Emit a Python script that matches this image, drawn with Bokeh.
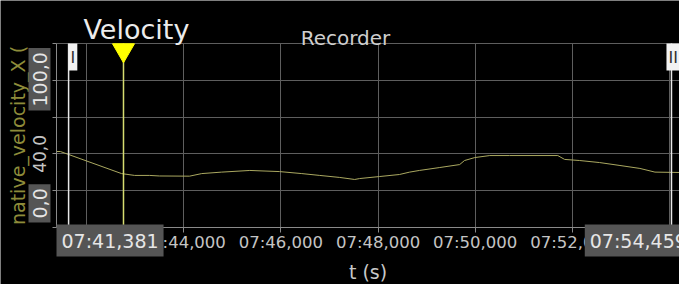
import math
from bokeh.plotting import figure
from bokeh.models import Range1d, Label, FixedTicker, BoxAnnotation
from bokeh.embed import file_html
from bokeh.resources import INLINE

# ---- data (time in seconds after 07:00, velocity values) ----
t_s = [41.381, 41.46, 42.72, 42.99, 43.30, 43.50, 44.12, 44.37, 44.78, 45.36,
       45.97, 46.43, 46.80, 47.21, 47.52, 47.62, 48.03, 48.44, 48.65, 48.85,
       49.27, 49.68, 49.78, 49.99, 50.30, 50.71, 51.70, 51.84, 52.15, 52.56,
       52.98, 53.39, 53.70, 54.20, 54.459]
velocity = [41.3, 41.3, 29.3, 28.3, 28.3, 28.0, 27.9, 29.3, 30.1, 31.0,
            30.4, 29.3, 28.3, 27.2, 26.1, 26.6, 27.7, 28.8, 30.1, 31.0,
            32.6, 34.2, 36.4, 38.0, 39.1, 39.1, 39.1, 37.0, 36.4, 35.3,
            33.7, 32.1, 30.1, 29.9, 29.8]

x_ticks = [42, 44, 46, 48, 50, 52, 54]
x_hidden = [42, 54]
y_ticks = [0, 20, 40, 60, 80, 100]
y_shown = [40]
y_min, y_max = 0, 100
t_start, t_end = 41.381, 54.459
cursor_white = [41.63, 54.04]
cursor_main = [42.76]
cursor_names = ["I", "II"]

title_text = "Velocity"
subtitle_text = "Recorder"
x_label_text = "t (s)"
y_label_text = "native_velocity_X ("


def fmt_time(t):
    sec = int(t)
    ms = int(round((t - sec) * 1000))
    return f"07:{sec:02d},{ms:03d}"


def fmt_val(v):
    return f"{v:.1f}".replace(".", ",")


# ---- layout (pixels) ----
W, H = 679, 284
PLOT_L, PLOT_T, PLOT_B = 56, 43, 227
PX_PER_S = 48.58
PX_PER_V = (PLOT_B - PLOT_T) / (y_max - y_min)
x_lo = t_start - PLOT_L / PX_PER_S
x_hi = t_start + (W - PLOT_L) / PX_PER_S
y_lo = y_min - (H - PLOT_B) / PX_PER_V
y_hi = y_max + PLOT_T / PX_PER_V
t_view_end = x_hi

FONT = "DejaVu Sans"
GRID = "#5e5e5e"
AXIS = "#8a8a8a"

p = figure(width=W, height=H, x_range=Range1d(x_lo, x_hi), y_range=Range1d(y_lo, y_hi),
           output_backend="svg", toolbar_location=None,
           min_border_left=0, min_border_right=0, min_border_top=0, min_border_bottom=0,
           background_fill_color="black", border_fill_color="black",
           outline_line_color=None)

# x axis (drawn at y = y_min)
xa = p.xaxis[0]
xa.fixed_location = y_min
xa.bounds = (t_start, t_view_end)
xa.ticker = FixedTicker(ticks=x_ticks)
xa.major_label_overrides = {t: ("" if t in x_hidden else fmt_time(t)) for t in x_ticks}
xa.axis_line_color = AXIS
xa.major_tick_line_color = AXIS
xa.major_tick_out = 5
xa.major_tick_in = 0
xa.minor_tick_line_color = None
xa.major_label_text_font = FONT
xa.major_label_text_font_size = "16.5px"
xa.major_label_text_color = "#c4c4c4"
xa.major_label_standoff = 0
xa.axis_label = x_label_text
xa.axis_label_text_font = FONT
xa.axis_label_text_font_style = "normal"
xa.axis_label_text_font_size = "19px"
xa.axis_label_text_color = "#c8c8c8"
xa.axis_label_standoff = 6

# y axis (drawn at x = t_start)
ya = p.yaxis[0]
ya.fixed_location = t_start
ya.bounds = (y_min, y_max)
ya.ticker = FixedTicker(ticks=y_ticks)
ya.major_label_overrides = {v: (fmt_val(v) if v in y_shown else "") for v in y_ticks}
ya.axis_line_color = AXIS
ya.major_tick_line_color = AXIS
ya.major_tick_out = 4
ya.major_tick_in = 0
ya.minor_tick_line_color = None
ya.major_label_orientation = "parallel"
ya.major_label_text_font = FONT
ya.major_label_text_font_size = "17px"
ya.major_label_text_color = "#c4c4c4"
ya.major_label_standoff = 6
ya.axis_label = y_label_text
ya.axis_label_text_font = FONT
ya.axis_label_text_font_style = "normal"
ya.axis_label_text_font_size = "19px"
ya.axis_label_text_color = "#8e8c3a"
ya.axis_label_standoff = 2

# grid restricted to the plot area
xg, yg = p.xgrid[0], p.ygrid[0]
xg.grid_line_color = GRID
yg.grid_line_color = GRID
if "cross_bounds" in xg.properties():
    xg.cross_bounds = (y_min, y_max)
    yg.cross_bounds = (t_start, t_view_end)
else:
    p.add_layout(BoxAnnotation(right=t_start, fill_color="black", fill_alpha=1,
                               line_color=None, level="glyph"))
    p.add_layout(BoxAnnotation(bottom=y_max, fill_color="black", fill_alpha=1,
                               line_color=None, level="glyph"))
    p.add_layout(BoxAnnotation(top=y_min, fill_color="black", fill_alpha=1,
                               line_color=None, level="glyph"))

# data line
p.line(t_s, velocity, line_color="#aaa860", line_width=1)

# cursors
p.segment(x0=cursor_white, y0=[y_min] * 2, x1=cursor_white, y1=[y_max] * 2,
          line_color="#e8e8e8", line_width=1.5)
p.segment(x0=cursor_main, y0=[y_min], x1=cursor_main, y1=[y_max],
          line_color="#d6dc70", line_width=1.5)
p.scatter(cursor_main, [y_max - 3.6], marker="inverted_triangle", size=22,
          fill_color="#ffff00", line_color="#ffff00")

for cx, name, off in zip(cursor_white, cursor_names, [0, -5]):
    p.add_layout(Label(x=cx, y=H - PLOT_T, x_units="data", y_units="screen", text=name,
                       x_offset=off, text_align="left", text_baseline="top",
                       text_font=FONT, text_font_size="16px", text_color="#303030",
                       background_fill_color="#f2f2f2",
                       padding=dict(left=2, right=2, top=4, bottom=4)))

# range boxes
BOX_BG = "#555555"
BOX_TXT = "#e6e6e6"
p.add_layout(Label(x=t_start, y=H - 256, x_units="data", y_units="screen",
                   text=fmt_time(t_start), text_align="left", text_baseline="bottom",
                   text_font=FONT, text_font_size="19px", text_color=BOX_TXT,
                   background_fill_color=BOX_BG, padding=5))
p.add_layout(Label(x=t_end, y=H - 256, x_units="data", y_units="screen",
                   text=fmt_time(t_end), text_align="right", text_baseline="bottom",
                   text_font=FONT, text_font_size="19px", text_color=BOX_TXT,
                   background_fill_color=BOX_BG, padding=5))
p.add_layout(Label(x=39, y=H - 110, x_units="screen", y_units="screen",
                   text=fmt_val(y_max), angle=math.pi / 2, text_align="left",
                   text_baseline="middle", text_font=FONT, text_font_size="19px",
                   text_color=BOX_TXT, background_fill_color=BOX_BG, padding=4))
p.add_layout(Label(x=39, y=H - 222, x_units="screen", y_units="screen",
                   text=fmt_val(y_min), angle=math.pi / 2, text_align="left",
                   text_baseline="middle", text_font=FONT, text_font_size="19px",
                   text_color=BOX_TXT, background_fill_color=BOX_BG, padding=4))

# titles
p.add_layout(Label(x=83, y=H - 29, x_units="screen", y_units="screen", text=title_text,
                   text_align="left", text_baseline="alphabetic", text_font=FONT,
                   text_font_size="27px", text_color="#ececec"))
p.add_layout(Label(x=345, y=H - 37, x_units="screen", y_units="screen", text=subtitle_text,
                   text_align="center", text_baseline="alphabetic", text_font=FONT,
                   text_font_size="20px", text_color="#cfcfcf"))

open("out.html", "w").write(file_html(p, INLINE))
